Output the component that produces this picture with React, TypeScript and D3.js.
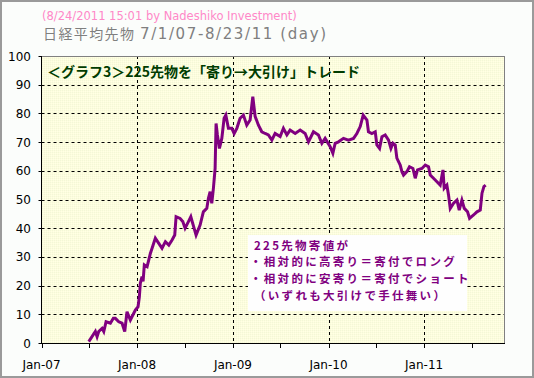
import React from "react";
import * as d3 from "d3";

// decimal years (time) and cumulative values
const times = [
  2007.494, 2007.563, 2007.581, 2007.598, 2007.633, 2007.651, 2007.675, 2007.72, 2007.751, 2007.772,
  2007.808, 2007.842, 2007.87, 2007.894, 2007.929, 2007.981, 2008.009, 2008.023, 2008.033, 2008.051,
  2008.062, 2008.075, 2008.104, 2008.138, 2008.156, 2008.19, 2008.226, 2008.26, 2008.295, 2008.331,
  2008.365, 2008.393, 2008.407, 2008.449, 2008.477, 2008.501, 2008.536, 2008.561, 2008.595, 2008.616,
  2008.658, 2008.692, 2008.728, 2008.745, 2008.763, 2008.78, 2008.797, 2008.815, 2008.825, 2008.839,
  2008.86, 2008.885, 2008.909, 2008.927, 2008.954, 2008.99, 2009.014, 2009.042, 2009.076, 2009.111,
  2009.146, 2009.181, 2009.209, 2009.233, 2009.268, 2009.303, 2009.338, 2009.372, 2009.408, 2009.442,
  2009.495, 2009.529, 2009.565, 2009.599, 2009.652, 2009.704, 2009.756, 2009.791, 2009.843, 2009.895,
  2009.931, 2009.965, 2010.018, 2010.046, 2010.07, 2010.105, 2010.157, 2010.209, 2010.262, 2010.297,
  2010.332, 2010.363, 2010.402, 2010.418, 2010.454, 2010.489, 2010.506, 2010.534, 2010.559, 2010.593,
  2010.628, 2010.653, 2010.674, 2010.698, 2010.715, 2010.75, 2010.768, 2010.785, 2010.82, 2010.847,
  2010.883, 2010.907, 2010.931, 2010.977, 2011.012, 2011.046, 2011.064, 2011.098, 2011.134, 2011.168,
  2011.197, 2011.21, 2011.238, 2011.255, 2011.273, 2011.308, 2011.343, 2011.367, 2011.395, 2011.42,
  2011.454, 2011.475, 2011.517, 2011.552, 2011.587, 2011.605, 2011.625, 2011.643,
];
const values = [
  0.5, 4.0, 2.2, 4.0, 5.1, 4.0, 7.4, 6.9, 8.6, 8.6,
  7.4, 6.9, 4.0, 10.9, 8.0, 11.5, 12.6, 16.1, 20.8, 23.1,
  21.5, 27.2, 26.6, 31.2, 33.0, 36.5, 34.7, 33.0, 35.3, 34.1,
  35.9, 37.6, 44.0, 43.4, 42.3, 40.0, 42.3, 44.0, 40.0, 37.6,
  41.1, 45.7, 46.9, 50.4, 52.7, 48.7, 53.9, 60.8, 76.5, 72.5,
  67.8, 71.3, 78.3, 79.4, 74.8, 74.8, 73.0, 74.8, 78.3, 79.4,
  75.9, 77.7, 85.8, 79.0, 75.9, 73.6, 73.0, 72.5, 70.7, 73.0,
  71.9, 74.8, 72.5, 74.2, 73.0, 74.2, 73.0, 70.1, 73.6, 72.5,
  69.6, 71.3, 68.4, 66.1, 69.6, 70.1, 71.3, 70.7, 71.3, 73.0,
  75.4, 79.4, 77.7, 73.6, 73.0, 73.6, 69.0, 67.8, 71.9, 72.5,
  70.7, 67.8, 69.6, 69.0, 64.4, 62.0, 59.7, 58.5, 59.7, 61.4,
  60.8, 57.4, 60.3, 60.8, 62.0, 61.4, 58.5, 57.4, 56.2, 55.0,
  60.3, 53.9, 55.0, 51.6, 46.9, 48.7, 49.8, 46.3, 49.8, 46.9,
  45.7, 43.4, 44.6, 45.7, 46.3, 52.2, 54.5, 55.0,
];

const yTicks = [0, 10, 20, 30, 40, 50, 60, 70, 80, 90, 100];
const xMajorLabels = ["Jan-07", "Jan-08", "Jan-09", "Jan-10", "Jan-11"];
const subtitle = "(8/24/2011 15:01 by Nadeshiko Investment)";
const titleJa = "日経平均先物";
const titleRange = "7/1/07-8/23/11 (day)";
const graphLabel = "＜グラフ3＞225先物を「寄り→大引け」トレード";
const noteLines = [
  "225先物寄値が",
  "・相対的に高寄り＝寄付でロング",
  "・相対的に安寄り＝寄付でショート",
  "（いずれも大引けで手仕舞い）",
];

const W = 534;
const H = 378;
const L = 41.5;
const R = 504;
const T = 56;
const B = 343;

function toDate(t: number) {
  return new Date(Date.UTC(2007, 0, 1) + (t - 2007) * 365.25 * 86400000);
}

export default function App() {
  const x = d3
    .scaleUtc()
    .domain([new Date(Date.UTC(2007, 0, 1)), new Date(Date.UTC(2011, 10, 2))])
    .range([L, R]);
  const y = d3.scaleLinear().domain([0, 100]).range([B, T]);

  const data = times.map((t, i) => ({ d: toDate(t), v: values[i] }));
  const line = d3
    .line<{ d: Date; v: number }>()
    .x((p) => x(p.d))
    .y((p) => y(p.v));

  const majors = [2007, 2008, 2009, 2010, 2011].map((yr) => new Date(Date.UTC(yr, 0, 1)));
  const minors = [2007, 2008, 2009, 2010, 2011].map((yr) => new Date(Date.UTC(yr, 6, 1)));

  const cjk = "'Noto Sans CJK JP', 'Noto Sans', sans-serif";
  const latin = "'DejaVu Sans', Verdana, sans-serif";

  return (
    <div style={{ position: "fixed", left: 0, top: 0 }}>
      <svg width={W} height={H} style={{ display: "block" }}>
        <defs>
          <pattern id="dither" width="2" height="2" patternUnits="userSpaceOnUse">
            <rect width="2" height="2" fill="#fdfddc" />
            <rect width="1" height="1" fill="#f3f7d8" />
            <rect x="1" y="1" width="1" height="1" fill="#ffffe6" />
          </pattern>
        </defs>
        <rect x={0} y={0} width={W} height={H} fill="#fbfdfb" />
        <rect x={1} y={1} width={W - 2} height={H - 2} fill="none" stroke="#9a9a9a" strokeWidth={2} />

        <text x={42} y={19.5} fontFamily={latin} fontSize={11.5} fill="#ff88c8">
          {subtitle}
        </text>
        <text x={43} y={39} fontFamily={cjk} fontSize={14} fill="#7f7f7f" letterSpacing={1.4}>
          {titleJa}
        </text>
        <text x={140} y={39} fontFamily={latin} fontSize={15} fill="#7f7f7f" letterSpacing={1.6}>
          {titleRange}
        </text>

        {/* plot background */}
        <rect x={L} y={T} width={R - L} height={B - T} fill="url(#dither)" />

        {/* horizontal gridlines */}
        {yTicks
          .filter((v) => v > 0 && v < 100)
          .map((v) => (
            <line
              key={"h" + v}
              x1={L}
              x2={R}
              y1={Math.round(y(v)) + 0.5}
              y2={Math.round(y(v)) + 0.5}
              stroke="#000"
              strokeWidth={1}
              strokeDasharray="3,3"
            />
          ))}
        {/* vertical gridlines */}
        {majors.slice(1).map((d, i) => (
          <line
            key={"v" + i}
            x1={Math.round(x(d)) + 0.5}
            x2={Math.round(x(d)) + 0.5}
            y1={T}
            y2={B}
            stroke="#000"
            strokeWidth={1}
            strokeDasharray="3,3"
          />
        ))}

        {/* plot frame */}
        <line x1={L} x2={R} y1={T + 0.5} y2={T + 0.5} stroke="#808080" />
        <line x1={R + 0.5} x2={R + 0.5} y1={T} y2={B} stroke="#808080" />
        <line x1={L} x2={L} y1={T} y2={B + 0.5} stroke="#000" />
        <line x1={L - 0.5} x2={R + 1} y1={B + 0.5} y2={B + 0.5} stroke="#000" />

        {/* x ticks */}
        {[...majors, ...minors].map((d, i) => (
          <line
            key={"t" + i}
            x1={Math.round(x(d)) + 0.5}
            x2={Math.round(x(d)) + 0.5}
            y1={B}
            y2={B + 5}
            stroke="#000"
          />
        ))}
        {majors.map((d, i) => (
          <text
            key={"xl" + i}
            x={x(d)}
            y={369}
            textAnchor="middle"
            fontFamily={latin}
            fontSize={12}
            fill="#000"
          >
            {xMajorLabels[i]}
          </text>
        ))}

        {/* y ticks */}
        {yTicks.map((v) => (
          <line key={"yt" + v} x1={L - 3} x2={L} y1={Math.round(y(v)) + 0.5} y2={Math.round(y(v)) + 0.5} stroke="#000" />
        ))}
        {yTicks.map((v) => (
          <text
            key={"yl" + v}
            x={31}
            y={y(v) + 4.5}
            textAnchor="end"
            fontFamily={latin}
            fontSize={12}
            fill="#000"
          >
            {v}
          </text>
        ))}

        {/* data line */}
        <path d={line(data) || ""} fill="none" stroke="#800080" strokeWidth={3} strokeLinejoin="miter" />

        {/* labels */}
        <text x={47} y={77} fontFamily={cjk} fontSize={14} fontWeight="bold" fill="#003c00">
          {graphLabel}
        </text>

        <rect x={248} y={235} width={219} height={76} fill="#fefefe" />
        {noteLines.map((s, i) => (
          <text
            key={"n" + i}
            x={i === 1 || i === 2 ? 250 : 254}
            y={249.5 + i * 16.7}
            fontFamily={cjk}
            fontSize={11.5}
            fontWeight="bold"
            fill="#800080"
            letterSpacing={2.3}
          >
            {s}
          </text>
        ))}
      </svg>
    </div>
  );
}
